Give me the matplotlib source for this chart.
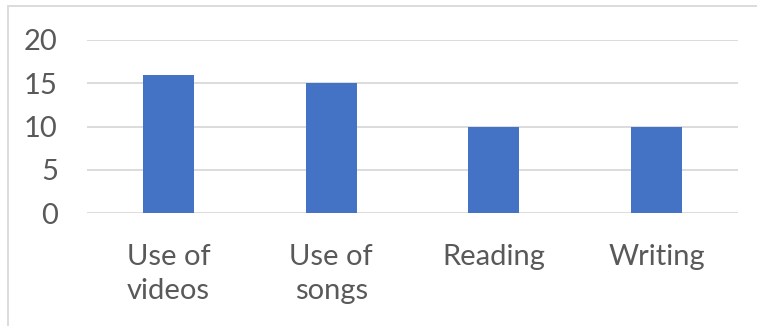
import matplotlib.pyplot as plt
import numpy as np
from matplotlib.patches import Rectangle

# data
categories = ['Use of\nvideos', 'Use of\nsongs', 'Reading', 'Writing']
values = [16, 15, 10, 10]
yticks = [0, 5, 10, 15, 20]

plt.rcParams['font.family'] = ['Lato', 'DejaVu Sans']

fig = plt.figure(figsize=(7.57, 3.26), dpi=100)
ax = fig.add_axes([87 / 757, 113 / 326, 651 / 757, 173 / 326])

x = np.arange(len(categories))
ax.bar(x, values, width=0.313, color='#4472C4', zorder=3)

ax.set_xlim(-0.5, len(categories) - 0.5)
ax.set_ylim(0, 20)
ax.set_yticks(yticks)
ax.set_xticks(x)
ax.set_xticklabels(categories, linespacing=1.42, va='top')
ax.yaxis.grid(True, color='#D9D9D9', linewidth=1.3, zorder=0)
ax.tick_params(axis='both', length=0, labelsize=21, labelcolor='#595959')
ax.tick_params(axis='y', pad=21)
ax.tick_params(axis='x', pad=22)
for s in ax.spines.values():
    s.set_visible(False)

# chart frame (only left and top edges are visible in the picture)
fig.patches.append(Rectangle((8 / 757, -0.1), 1.0, (320 / 326) + 0.1,
                             transform=fig.transFigure, fill=False,
                             edgecolor='#D9D9D9', linewidth=1.3))

fig.savefig('out.png', dpi=100)
